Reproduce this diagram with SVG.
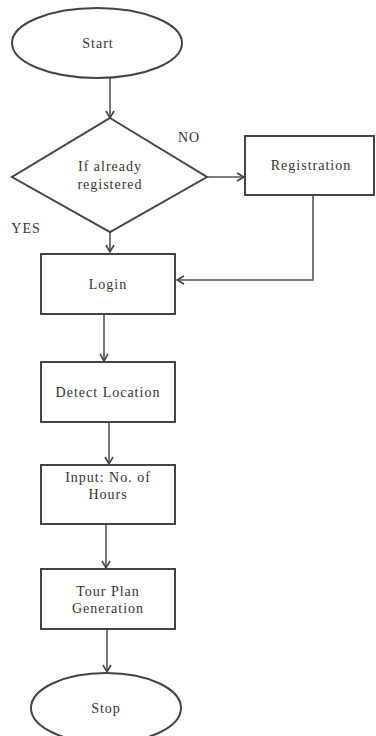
<svg xmlns="http://www.w3.org/2000/svg" width="376" height="736" viewBox="0 0 376 736">
<style>
.s{fill:#fff;stroke:#444;stroke-width:2}
.c{fill:none;stroke:#555;stroke-width:1.6}
text{font-family:"Liberation Serif","Times New Roman",serif;font-size:14px;fill:#333;text-anchor:middle;letter-spacing:1px}
</style>
<defs>
<marker id="a" markerWidth="10" markerHeight="10" refX="8" refY="5" orient="auto" markerUnits="userSpaceOnUse">
<polyline points="1,1 8,5 1,9" fill="none" stroke="#444" stroke-width="1.6"/>
</marker>
</defs>
<rect width="376" height="736" fill="#fff"/>
<g id="connectors">
<line class="c" x1="110" y1="78" x2="110" y2="118" marker-end="url(#a)"/>
<line class="c" x1="207" y1="177" x2="244" y2="177" marker-end="url(#a)"/>
<line class="c" x1="110" y1="232" x2="110" y2="252" marker-end="url(#a)"/>
<polyline class="c" points="313,196 313,280 177,280" marker-end="url(#a)"/>
<line class="c" x1="104" y1="315" x2="104" y2="361" marker-end="url(#a)"/>
<line class="c" x1="109" y1="423" x2="109" y2="464" marker-end="url(#a)"/>
<line class="c" x1="106" y1="525" x2="106" y2="568" marker-end="url(#a)"/>
<line class="c" x1="107" y1="630" x2="107" y2="672" marker-end="url(#a)"/>
</g>
<g id="start">
<ellipse class="s" cx="97" cy="43" rx="85" ry="35"/>
<text x="98" y="48">Start</text>
</g>
<g id="decision">
<polygon class="s" points="110,118 207,177 110,232 12,177"/>
<text x="110" y="171">If already</text>
<text x="110" y="189">registered</text>
</g>
<g id="registration">
<rect class="s" x="245" y="136" width="129" height="59"/>
<text x="311" y="170">Registration</text>
</g>
<g id="labels">
<text x="189" y="142">NO</text>
<text x="26" y="233">YES</text>
</g>
<g id="login">
<rect class="s" x="41" y="254" width="134" height="60"/>
<text x="108" y="289">Login</text>
</g>
<g id="detect">
<rect class="s" x="41" y="362" width="134" height="60"/>
<text x="108" y="397">Detect Location</text>
</g>
<g id="input">
<rect class="s" x="41" y="465" width="134" height="59"/>
<text x="108" y="482">Input: No. of</text>
<text x="108" y="499">Hours</text>
</g>
<g id="tourplan">
<rect class="s" x="41" y="569" width="134" height="60"/>
<text x="108" y="596">Tour Plan</text>
<text x="108" y="613">Generation</text>
</g>
<g id="stop">
<ellipse class="s" cx="106" cy="708" rx="75" ry="35"/>
<text x="106" y="713">Stop</text>
</g>
</svg>
